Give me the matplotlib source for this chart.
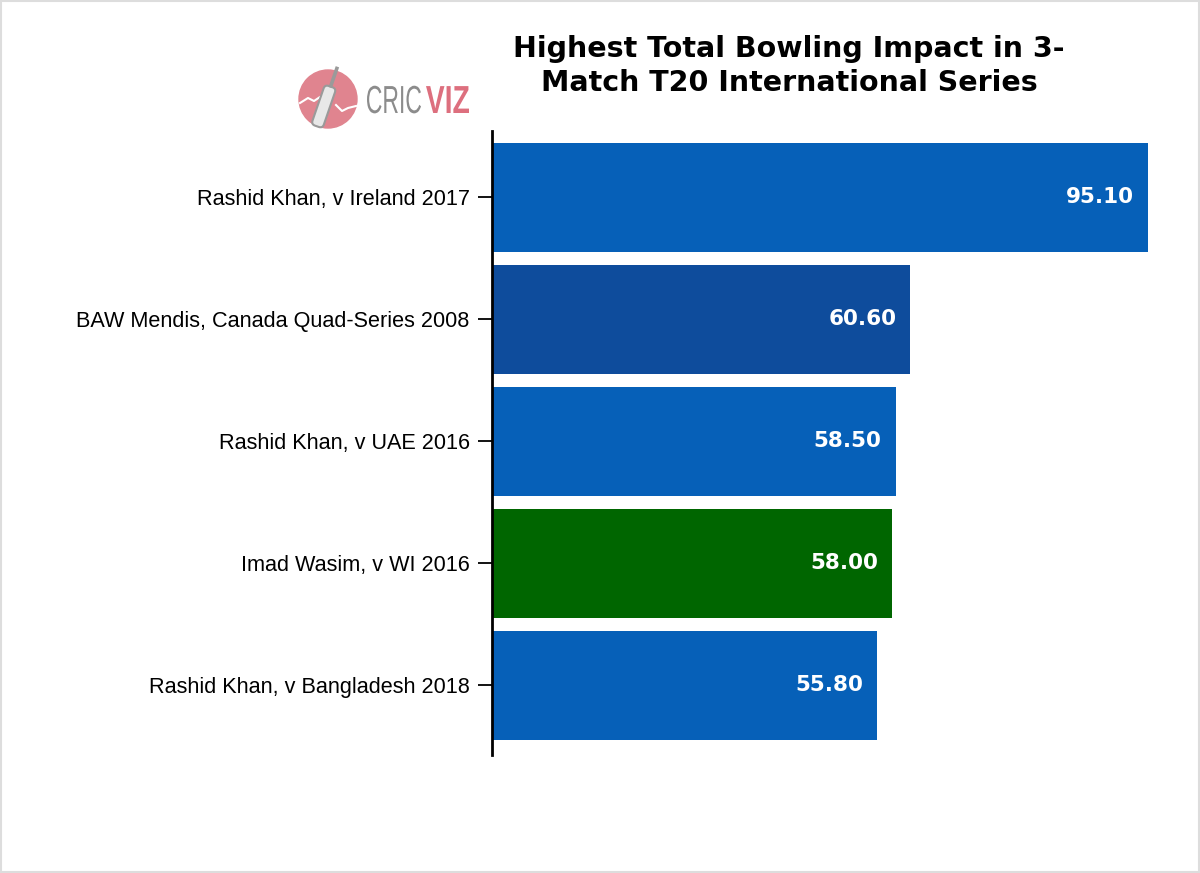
import matplotlib
matplotlib.use("Agg")
import matplotlib.pyplot as plt
from matplotlib.patches import Circle, Rectangle, FancyBboxPatch, PathPatch
from matplotlib.textpath import TextPath
from matplotlib.font_manager import FontProperties
import matplotlib.transforms as mtransforms

categories = ["Rashid Khan, v Ireland 2017",
              "BAW Mendis, Canada Quad-Series 2008",
              "Rashid Khan, v UAE 2016",
              "Imad Wasim, v WI 2016",
              "Rashid Khan, v Bangladesh 2018"]
values = [95.10, 60.60, 58.50, 58.00, 55.80]
colors = ["#0660B8", "#0E4C9C", "#0660B8", "#006600", "#0660B8"]

W, H = 1200, 873
fig = plt.figure(figsize=(12, 8.73), dpi=100)

left_px, right_px, top_px, bot_px = 492, 492 + 100 * (656 / 95.1), 131, 755
ax = fig.add_axes([left_px / W, 1 - bot_px / H, (right_px - left_px) / W, (bot_px - top_px) / H])

y = list(range(len(categories)))
ax.barh(y, values, height=0.893, color=colors, zorder=2)
ax.set_xlim(0, 100)
ax.set_ylim(4.57, -0.545)
ax.set_yticks(y)
ax.set_yticklabels(categories, fontsize=15.6, family="Liberation Sans")
ax.tick_params(axis="y", length=10, width=1.3, direction="out", pad=6)
ax.set_xticks([])
for s in ["top", "right", "bottom"]:
    ax.spines[s].set_visible(False)
ax.spines["left"].set_linewidth(2)

for yi, v in zip(y, values):
    ax.text(v - 2.0, yi, f"{v:.2f}", ha="right", va="center", color="white",
            fontsize=15.5, fontweight="bold", family="DejaVu Sans", zorder=3)

fig.text(789 / W, 1 - 66 / H, "Highest Total Bowling Impact in 3-\nMatch T20 International Series",
         ha="center", va="center", fontsize=20.5, fontweight="bold", family="DejaVu Sans",
         linespacing=1.3)

# logo
lax = fig.add_axes([0, 0, 1, 1], zorder=-1)
lax.set_xlim(0, W)
lax.set_ylim(H, 0)
lax.axis("off")
lax.add_patch(Circle((328, 99), 29, color="#E0848F", zorder=1))
lax.plot([300, 308, 314, 320], [103, 98, 101, 97], color="white", lw=1.5, zorder=1.5)
lax.plot([336, 342, 348, 356], [105, 111, 108, 106], color="white", lw=1.5, zorder=1.5)
tr = mtransforms.Affine2D().rotate_deg(-161).translate(327, 97) + lax.transData
bat = FancyBboxPatch((-5, -30), 10, 40, boxstyle="round,pad=1,rounding_size=4",
                     facecolor="#E8E8E8", edgecolor="#9A9A9A", linewidth=1.5, zorder=2)
bat.set_transform(tr)
lax.add_patch(bat)
handle = Rectangle((-1.8, 10), 3.6, 22, facecolor="#9A9A9A", edgecolor="none", zorder=2)
handle.set_transform(tr)
lax.add_patch(handle)


def word(txt, x0, width, baseline, capsize, color, weight):
    fp = FontProperties(family="Liberation Sans", weight=weight)
    tp = TextPath((0, 0), txt, size=capsize / 0.716, prop=fp)
    ext = tp.get_extents()
    sx = width / ext.width
    t = mtransforms.Affine2D().translate(-ext.x0, 0).scale(sx, -1).translate(x0, baseline) + lax.transData
    p = PathPatch(tp, facecolor=color, edgecolor="none", transform=t, zorder=3)
    lax.add_patch(p)


word("CRIC", 367, 54, 113, 28, "#8C8C8C", "normal")
word("VIZ", 426, 43, 113, 28, "#DD6F7E", "bold")

lax.add_patch(Rectangle((1, 1), W - 2, H - 2, fill=False, edgecolor="#DDDDDD", linewidth=1.5))

fig.savefig("out.png", dpi=100)
